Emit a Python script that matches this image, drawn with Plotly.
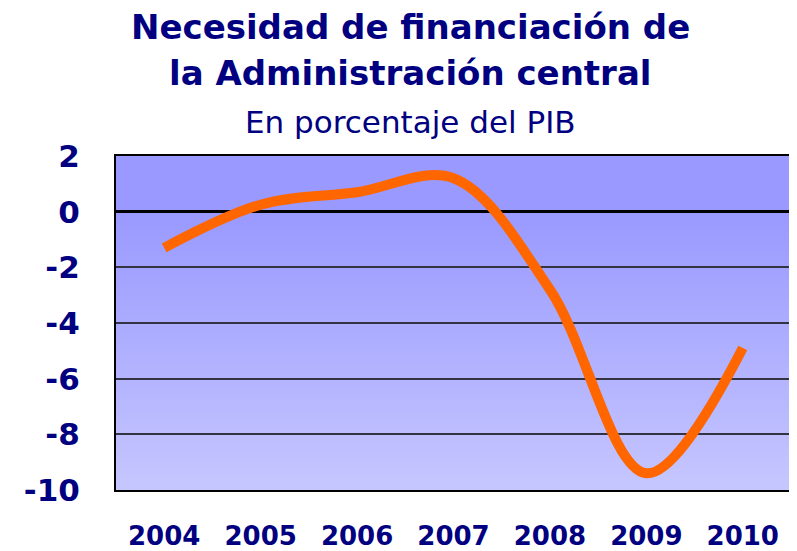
import base64, struct, zlib
import plotly.graph_objects as go

years = ["2004", "2005", "2006", "2007", "2008", "2009", "2010"]
values = [-1.3, 0.25, 0.7, 1.2, -2.8, -9.4, -4.9]
y_ticks = [2, 0, -2, -4, -6, -8, -10]
y_tick_labels = ["2", "0", "-2", "-4", "-6", "-8", "-10"]

title_line1 = "Necesidad de financiación de"
title_line2 = "la Administración central"
subtitle = "En porcentaje del PIB"

NAVY = "#000080"
OFF = 8  # page body margin of the browser
W, H = 797 - OFF, 551 - OFF
PLOT_TOP, PLOT_BOTTOM, PLOT_LEFT, PLOT_RIGHT = 156, 490, 116, 791  # screen px


def py(p):
    return (PLOT_BOTTOM - p) / (PLOT_BOTTOM - PLOT_TOP)


def px(p):
    return (p - PLOT_LEFT) / (PLOT_RIGHT - PLOT_LEFT)


# vertical gradient PNG for the plot background
def gradient_png(h=334):
    rows = b""
    for i in range(h):
        t = max(0.0, (i - 54) / (h - 54))
        r = int(round(153 + (198 - 153) * t))
        rows += b"\x00" + bytes([r, r, 255])

    def chunk(tag, data):
        c = struct.pack(">I", len(data)) + tag + data
        return c + struct.pack(">I", zlib.crc32(tag + data) & 0xffffffff)

    png = b"\x89PNG\r\n\x1a\n"
    png += chunk(b"IHDR", struct.pack(">IIBBBBB", 1, h, 8, 2, 0, 0, 0))
    png += chunk(b"IDAT", zlib.compress(rows))
    png += chunk(b"IEND", b"")
    return "data:image/png;base64," + base64.b64encode(png).decode()


fig = go.Figure()
fig.add_trace(go.Scatter(
    x=years, y=values, mode="lines",
    line=dict(color="#FF6600", width=10, shape="spline", smoothing=1.0),
    hoverinfo="x+y",
))

cx = px(410)
fig.update_layout(
    width=W, height=H,
    margin=dict(l=PLOT_LEFT - OFF, r=797 - PLOT_RIGHT, t=PLOT_TOP - OFF, b=551 - PLOT_BOTTOM),
    paper_bgcolor="white",
    plot_bgcolor="rgba(0,0,0,0)",
    showlegend=False,
    images=[dict(source=gradient_png(), xref="paper", yref="paper",
                 x=0, y=1, sizex=1, sizey=1, sizing="stretch",
                 xanchor="left", yanchor="top", layer="below")],
    annotations=[
        dict(text="<b>" + title_line1 + "</b>", xref="paper", yref="paper",
             x=cx, y=py(27), xanchor="center", yanchor="middle",
             showarrow=False,
             font=dict(family="DejaVu Sans", size=34, color=NAVY)),
        dict(text="<b>" + title_line2 + "</b>", xref="paper", yref="paper",
             x=cx, y=py(73), xanchor="center", yanchor="middle",
             showarrow=False,
             font=dict(family="DejaVu Sans", size=34, color=NAVY)),
        dict(text=subtitle, xref="paper", yref="paper",
             x=cx, y=py(122), xanchor="center", yanchor="middle",
             showarrow=False,
             font=dict(family="DejaVu Sans", size=31, color=NAVY)),
    ],
)

fig.update_xaxes(
    type="category", range=[-0.5, 6.5], automargin=False,
    showgrid=False, zeroline=False,
    showline=True, linecolor="black", linewidth=2, mirror=True,
    ticks="", ticklabelstandoff=22,
    tickfont=dict(family="DejaVu Sans", size=26, color=NAVY, weight="bold"),
)
fig.update_yaxes(
    range=[-10, 2], tickvals=y_ticks, ticktext=y_tick_labels, automargin=False,
    showgrid=True, gridcolor="#333344", gridwidth=1.5,
    zeroline=True, zerolinecolor="black", zerolinewidth=2.5,
    showline=True, linecolor="black", linewidth=2, mirror=True,
    ticks="", ticklabelstandoff=28,
    tickfont=dict(family="DejaVu Sans", size=31, color=NAVY, weight="bold"),
)

fig.write_html("out.html")
